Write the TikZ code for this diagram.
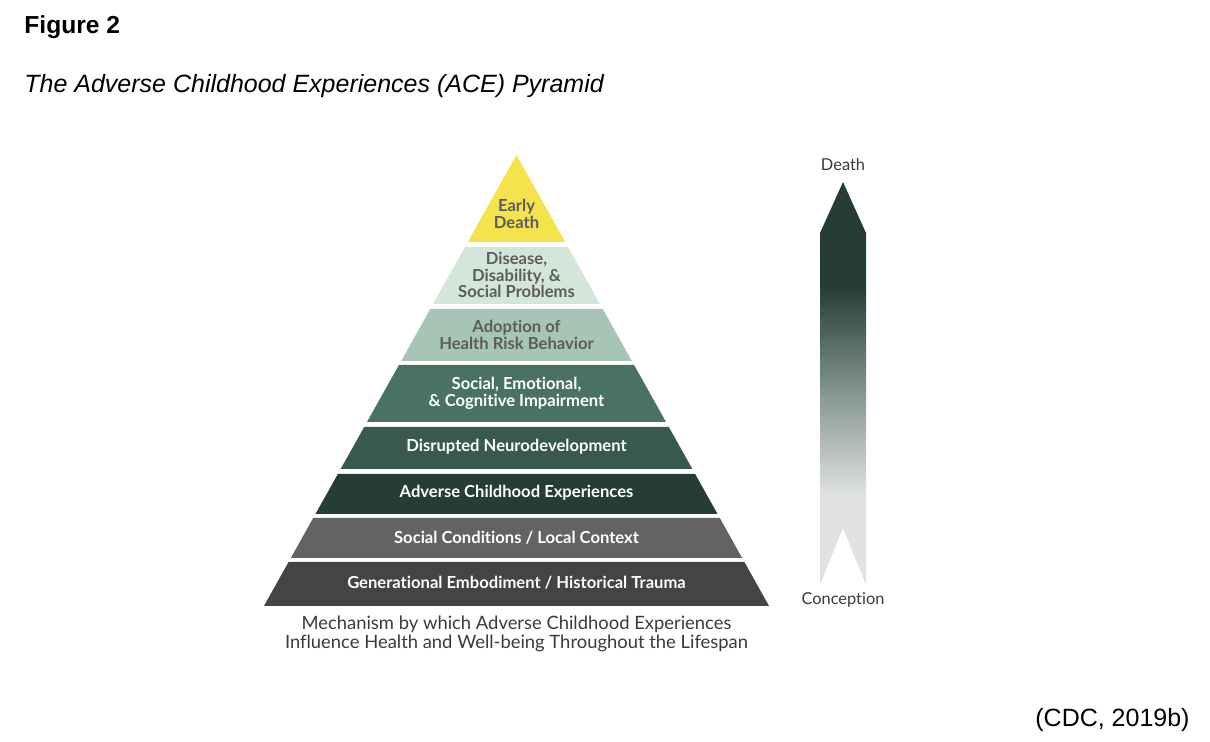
\documentclass[tikz,border=0pt]{standalone}
\usepackage{fontspec}
\setmainfont{Liberation Sans}
\newfontfamily\pyrfont[Ligatures={NoCommon}]{Lato}
\usetikzlibrary{positioning}

\definecolor{aceYellow}{HTML}{F4E34C}
\definecolor{aceMint}{HTML}{D3E6DA}
\definecolor{aceSage}{HTML}{A7C5B6}
\definecolor{aceGreen}{HTML}{4A7262}
\definecolor{aceForest}{HTML}{38594B}
\definecolor{acePine}{HTML}{253D36}
\definecolor{aceSlate}{HTML}{636366}
\definecolor{aceCoal}{HTML}{444444}
\definecolor{aceText}{HTML}{5C5C5C}
\definecolor{aceInk}{HTML}{3A3A3A}
\definecolor{lifeDark}{HTML}{263C37}
\definecolor{lifeMid}{HTML}{849590}
\definecolor{lifeLight}{HTML}{E1E3E2}

\pgfdeclareverticalshading{lifespan}{100bp}{color(0bp)=(lifeLight); color(36bp)=(lifeLight);
  color(49bp)=(lifeMid); color(62bp)=(lifeDark); color(100bp)=(lifeDark)}

\begin{document}
\begin{tikzpicture}
[x=0.5pt,y=-0.5pt,
  bandText/.style={align=center,inner sep=0pt,font=\pyrfont\bfseries\fontsize{8.3}{8.4}\selectfont},%
  sideText/.style={inner sep=0pt,text=aceInk,font=\pyrfont\fontsize{8.2}{9}\selectfont},%
  capText/.style={align=center,inner sep=0pt,text=aceInk,font=\pyrfont\fontsize{9.2}{9.2}\selectfont}]
\useasboundingbox (0,0) rectangle (1210,742);
%% titles
\node[anchor=west,inner sep=0pt,font=\bfseries\fontsize{12.3}{14}\selectfont] (figno) at (24,27) {Figure 2};
\node[anchor=west,inner sep=0pt,font=\itshape\fontsize{12.5}{14}\selectfont] (figtitle) at (24,86) {The Adverse Childhood Experiences (ACE) Pyramid};
\node[anchor=east,inner sep=0pt,font=\fontsize{12.5}{14}\selectfont] (source) at (1190,720) {(CDC, 2019b)};
%% pyramid bands
\foreach \bandname/\ytop/\ybot/\ytext/\fillcol/\txtcol/\bandtext in {
  early/155/242/214/aceYellow/aceText/{Early\\Death},
  disease/247/304/275/aceMint/aceText/{Disease,\\Disability, \&\\Social Problems},
  adoption/309/361/335/aceSage/aceText/{Adoption of\\Health Risk Behavior},
  impair/365/422/393/aceGreen/white/{Social, Emotional,\\\& Cognitive Impairment},
  neuro/427/469/447/aceForest/white/{Disrupted Neurodevelopment},
  aces/474/514/493/acePine/white/{Adverse Childhood Experiences},
  social/518/558/538/aceSlate/white/{Social Conditions / Local Context},
  history/562/606/583/aceCoal/white/{Generational Embodiment / Historical Trauma}}
{
  \fill[\fillcol] ({516.5-0.56*(\ytop-155)},\ytop) -- ({516.5+0.56*(\ytop-155)},\ytop)
    -- ({516.5+0.56*(\ybot-155)},\ybot) -- ({516.5-0.56*(\ybot-155)},\ybot) -- cycle;
  \node[bandText,text=\txtcol] (\bandname) at (516.5,\ytext) {\bandtext};
}
\node[capText] (caption) at (516.5,634) {Mechanism by which Adverse Childhood Experiences\\Influence Health and Well-being Throughout the Lifespan};
%% lifespan arrow
\shade[shading=lifespan] (820,233) -- (843,182) -- (866,233) -- (866,585) -- (843,528) -- (820,585) -- cycle;
\node[sideText] (death) at (843,165) {Death};
\node[sideText] (conception) at (843,600) {Conception};
\end{tikzpicture}
\end{document}
